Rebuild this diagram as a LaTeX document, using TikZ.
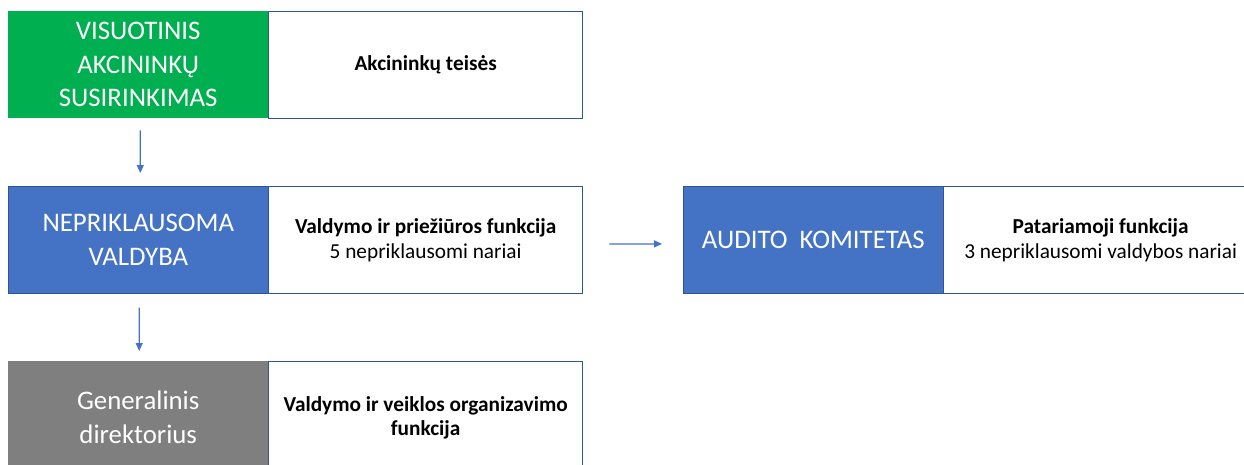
\documentclass[tikz,border=0pt]{standalone}
\usepackage{fontspec}
\setmainfont{Carlito}
\usetikzlibrary{arrows.meta}
\definecolor{cgreen}{HTML}{00B050}
\definecolor{cblue}{HTML}{4472C4}
\definecolor{cgray}{HTML}{7F7F7F}
\definecolor{cedge}{HTML}{2F5597}
\begin{document}
\begin{tikzpicture}[x=1pt,y=-1pt,
  colbox/.style={anchor=north west, minimum width=260pt, minimum height=107pt, inner sep=0pt, align=center, text=white, font=\fontsize{26.8}{33.5}\selectfont},
  infobox/.style={anchor=north west, minimum width=314pt, minimum height=107pt, inner sep=0pt, align=center, fill=white, draw=cedge, line width=1.3pt, font=\fontsize{21.3}{24.5}\selectfont},
  link/.style={draw=cblue, line width=1.2pt, -{Triangle[length=8pt,width=7pt]}}]
\clip (0,0) rectangle (1244,464);
\fill[white] (0,0) rectangle (1244,464);
% row 1
\node[colbox, fill=cgreen] (g) at (8,11) {VISUOTINIS\\AKCININKŲ\\SUSIRINKIMAS};
\node[infobox] (gi) at (268,11) {\textbf{Akcininkų teisės}};
% row 2
\node[colbox, fill=cblue, draw=cedge, line width=0.6pt] (v) at (8,186) {NEPRIKLAUSOMA\\VALDYBA};
\node[infobox] (vi) at (268,186) {\textbf{Valdymo ir priežiūros funkcija}\\5 nepriklausomi nariai};
% audit
\node[colbox, fill=cblue, draw=cedge, line width=0.6pt] (a) at (683,186) {AUDITO\ \ KOMITETAS};
\node[infobox] (ai) at (943,186) {\textbf{Patariamoji funkcija}\\3 nepriklausomi valdybos nariai};
% row 3
\node[colbox, fill=cgray, minimum height=112pt] (d) at (8,361) {Generalinis\\direktorius};
\node[infobox, minimum height=112pt] (di) at (268,361) {\textbf{Valdymo ir veiklos organizavimo}\\\textbf{funkcija}};
% connectors
\draw[link, shorten <=12pt, shorten >=13pt] ([xshift=2pt]g.south) -- ([xshift=2pt]v.north);
\draw[link, shorten <=14pt, shorten >=10pt] ([xshift=1pt]v.south) -- ([xshift=1pt]d.north);
\draw[link, shorten <=26pt, shorten >=21pt] ([yshift=-4pt]vi.east) -- ([yshift=-4pt]a.west);
\end{tikzpicture}
\end{document}
